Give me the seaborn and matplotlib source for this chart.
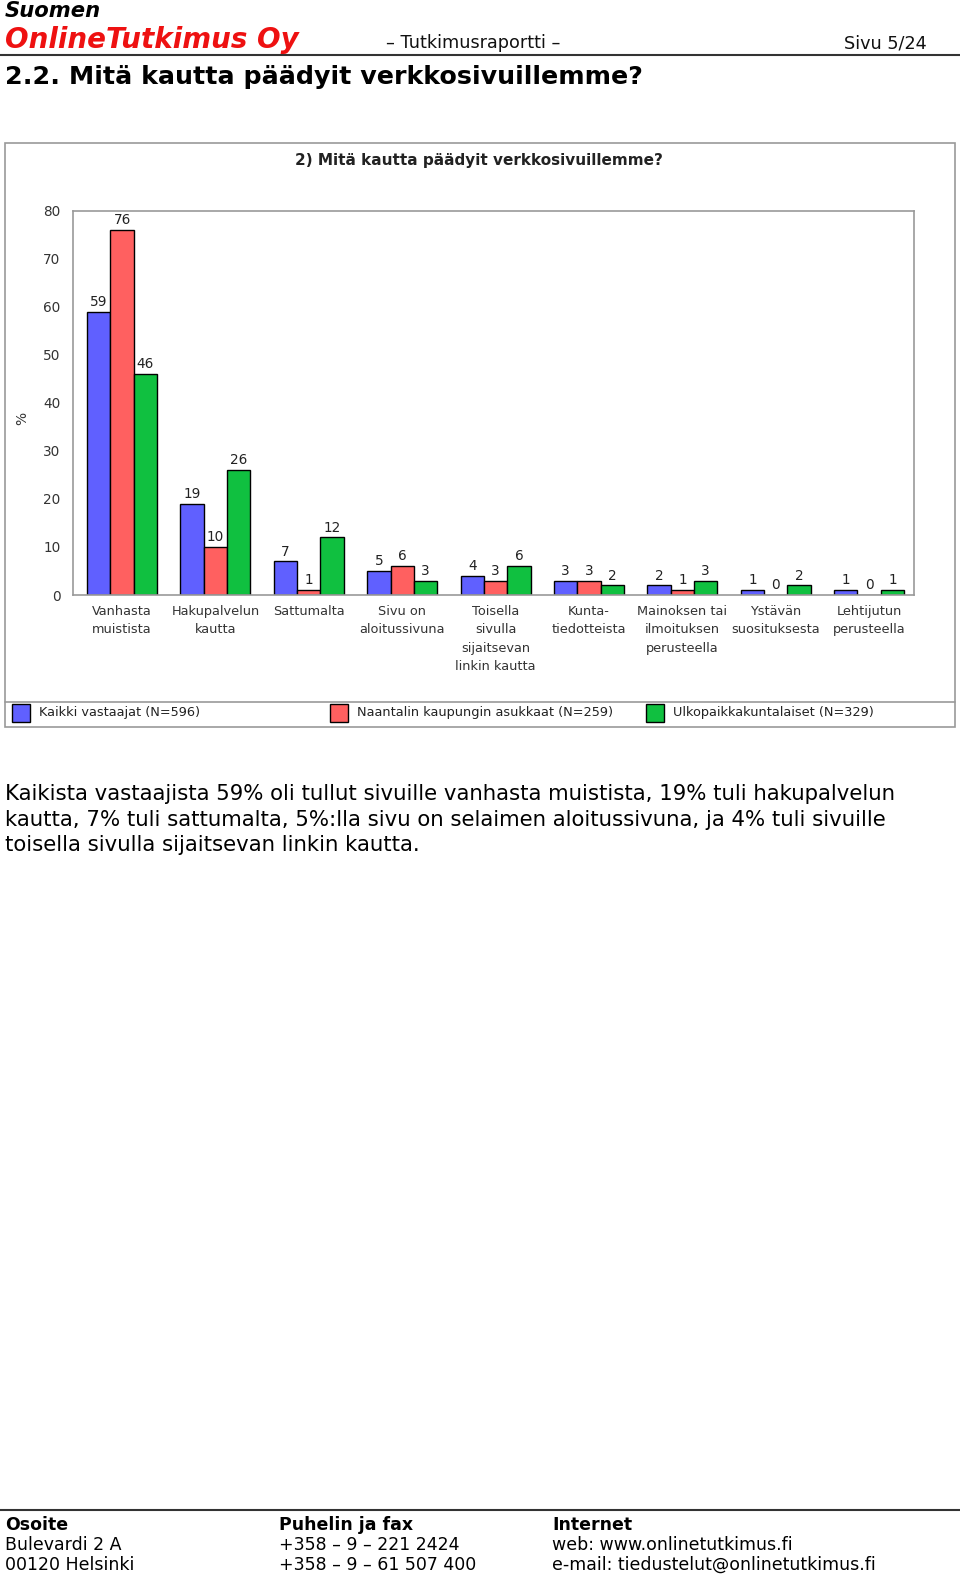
import matplotlib
matplotlib.use("Agg")
import matplotlib.pyplot as plt
import seaborn as sns
import pandas as pd
from matplotlib.patches import Rectangle
from matplotlib.lines import Line2D

categories = ["Vanhasta\nmuistista", "Hakupalvelun\nkautta", "Sattumalta",
              "Sivu on\naloitussivuna", "Toisella\nsivulla\nsijaitsevan\nlinkin kautta",
              "Kunta-\ntiedotteista", "Mainoksen tai\nilmoituksen\nperusteella",
              "Ystävän\nsuosituksesta", "Lehtijutun\nperusteella"]
series_names = ["Kaikki vastaajat (N=596)",
                "Naantalin kaupungin asukkaat (N=259)",
                "Ulkopaikkakuntalaiset (N=329)"]
kaikki = [59, 19, 7, 5, 4, 3, 2, 1, 1]
naantali = [76, 10, 1, 6, 3, 3, 1, 0, 0]
ulko = [46, 26, 12, 3, 6, 2, 3, 2, 1]
colors = ["#6060FF", "#FF6060", "#10C040"]
yticks = [0, 10, 20, 30, 40, 50, 60, 70, 80]

sns.set_theme(style="white")
plt.rcParams['font.family'] = ['DejaVu Sans']

W, H = 960, 1576
fig = plt.figure(figsize=(W / 100, H / 100), dpi=100)


def fx(x):
    return x / W


def fy(y):
    return 1 - y / H


def ftext(x, y, s, **kw):
    kw.setdefault("va", "center")
    fig.text(fx(x), fy(y), s, **kw)


# ---- page header ----
ftext(5, 11, "Suomen", fontsize=15.2, fontweight="bold", style="italic", color="black")
ftext(5, 40, "OnlineTutkimus Oy", fontsize=20, fontweight="bold", style="italic", color="#EE1111")
ftext(473, 43, "– Tutkimusraportti –", fontsize=12.7, ha="center", color="#111111")
ftext(927, 43, "Sivu 5/24", fontsize=12.7, ha="right", color="#111111")
fig.add_artist(Line2D([0, 1], [fy(55), fy(55)], color="#333333", lw=1.5))
ftext(5, 77, "2.2. Mitä kautta päädyit verkkosivuillemme?", fontsize=18.3,
      fontweight="bold", color="black")

# ---- chart frame ----
fig.add_artist(Rectangle((fx(5), fy(727)), fx(955) - fx(5), fy(143) - fy(727),
                         fill=False, edgecolor="#999999", lw=1.2))
fig.add_artist(Line2D([fx(5), fx(955)], [fy(702), fy(702)], color="#999999", lw=1.2))
ftext(479, 161, "2) Mitä kautta päädyit verkkosivuillemme?", fontsize=11,
      fontweight="bold", ha="center", color="#222222")

# ---- data ----
df = pd.DataFrame({
    "kategoria": categories * 3,
    "sarja": [series_names[0]] * len(categories) + [series_names[1]] * len(categories)
             + [series_names[2]] * len(categories),
    "arvo": kaikki + naantali + ulko,
})

ax = fig.add_axes([fx(73), fy(595), fx(914) - fx(73), fy(211) - fy(595)])
sns.barplot(data=df, x="kategoria", y="arvo", hue="sarja", order=categories,
            hue_order=series_names, palette=colors, edgecolor="black", linewidth=1.0,
            width=0.75, saturation=1, legend=False, ax=ax)
for c in ax.containers:
    ax.bar_label(c, fmt="%d", padding=2, fontsize=9.8, color="#222222")

ax.set_ylim(0, 80)
ax.set_xlim(-0.525, 8.48)
ax.set_yticks(yticks)
ax.set_yticklabels([str(t) for t in yticks], fontsize=9.8, color="#333333")
ax.tick_params(axis="y", length=0, pad=9)
ax.tick_params(axis="x", length=0, pad=7)
ax.set_xticks(range(len(categories)))
ax.set_xticklabels(categories, fontsize=9.3, color="#333333", linespacing=1.55, va="top")
ax.set_xlabel("")
ax.set_ylabel("")
for sp in ax.spines.values():
    sp.set_color("#999999")
    sp.set_linewidth(1.2)
ax.grid(False)
ftext(22, 418, "%", fontsize=10, rotation=90, ha="center", color="#333333")

# ---- legend ----
leg_x = [12, 330, 646]
for i, name in enumerate(series_names):
    fig.add_artist(Rectangle((fx(leg_x[i]), fy(722)), fx(18), fy(704) - fy(722),
                             facecolor=colors[i], edgecolor="black", lw=1))
    ftext(leg_x[i] + 27, 713, name, fontsize=9.3, color="#222222")

# ---- paragraph ----
para = ["Kaikista vastaajista 59% oli tullut sivuille vanhasta muistista, 19% tuli hakupalvelun",
        "kautta, 7% tuli sattumalta, 5%:lla sivu on selaimen aloitussivuna, ja 4% tuli sivuille",
        "toisella sivulla sijaitsevan linkin kautta."]
for i, line in enumerate(para):
    ftext(5, 794 + i * 25.7, line, fontsize=15.3, color="black")

# ---- footer ----
fig.add_artist(Line2D([0, 1], [fy(1510), fy(1510)], color="#333333", lw=1.5))
footer = [["Osoite", "Bulevardi 2 A", "00120 Helsinki"],
          ["Puhelin ja fax", "+358 – 9 – 221 2424", "+358 – 9 – 61 507 400"],
          ["Internet", "web: www.onlinetutkimus.fi", "e-mail: tiedustelut@onlinetutkimus.fi"]]
cols_x = [5, 279, 552]
for cx, col in zip(cols_x, footer):
    for j, s in enumerate(col):
        ftext(cx, 1525 + j * 20, s, fontsize=12.5, fontweight="bold" if j == 0 else "normal",
              color="black")

fig.savefig("out.png", dpi=100, facecolor="white")
